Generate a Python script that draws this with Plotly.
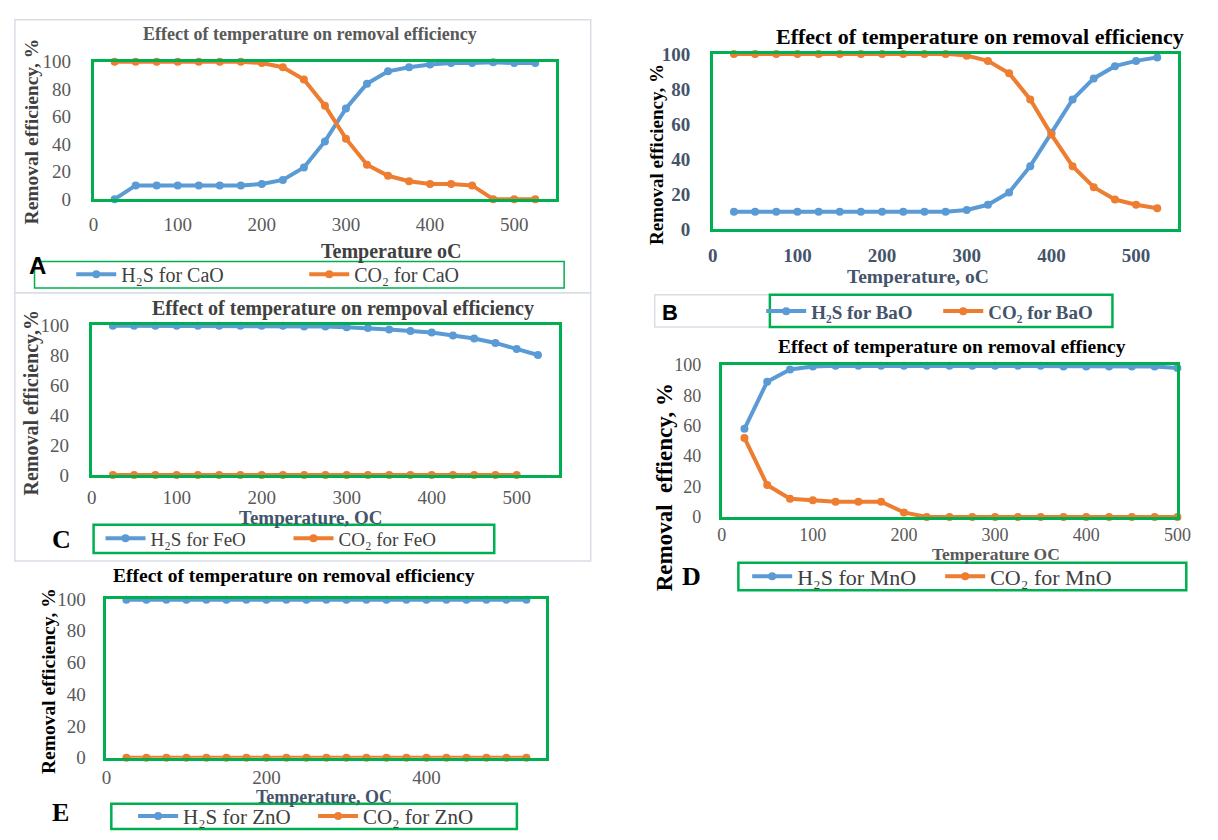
import plotly.graph_objects as go

W, H = 1218, 840
temps = [25, 50, 75, 100, 125, 150, 175, 200, 225, 250, 275, 300, 325, 350, 375, 400, 425, 450, 475, 500, 525]

h2s_cao = [0, 10, 10, 10, 10, 10, 10, 11, 14, 23, 42, 66, 84, 93, 96, 98, 99, 99, 99.5, 99, 99]
co2_cao = [100, 100, 100, 100, 100, 100, 100, 99, 96, 87, 68, 44, 25, 17, 13, 11, 11, 10, 0, 0, 0]

h2s_bao = [10, 10, 10, 10, 10, 10, 10, 10, 10, 10, 10, 11, 14, 21, 36, 55, 74, 86, 93, 96, 98]
co2_bao = [100, 100, 100, 100, 100, 100, 100, 100, 100, 100, 100, 99, 96, 89, 74, 54, 36, 24, 17, 14, 12]

h2s_feo = [99.5, 99.5, 99.5, 99.5, 99.5, 99.5, 99.5, 99.5, 99.5, 99, 99, 98.5, 98, 97, 96, 95, 93, 91, 88, 84, 80]
temps_feo_co2 = temps[:20]
co2_feo = [0] * 20

temps_mno = temps[:20]
h2s_mno = [58, 89, 97, 99, 99.5, 99.5, 99.5, 99.5, 99.5, 99.5, 99.5, 99.5, 99.5, 99.5, 99, 99, 99, 99, 99, 98]
co2_mno = [52, 21, 12, 11, 10, 10, 10, 3, 0, 0, 0, 0, 0, 0, 0, 0, 0, 0, 0, 0]

h2s_zno = [99.5] * 21
co2_zno = [0] * 21

BLUE = "#5B9BD5"
ORANGE = "#ED7D31"
GREEN = "#00B050"
GRAY = "#595959"
SERIF = "Liberation Serif"

def px(x):
    return x / W

def py(y):
    return 1 - y / H

fig = go.Figure()

# panel: (suffix, x0, x1, ytop, ybottom, xmax, dtick, tickcolor, bold, ystandoff, xstandoff, ticksize)
panels = [
    ("", 90, 560, 53, 194, 550, 100, GRAY, False, 16, 6, 19),
    ("2", 719, 1192, 45, 225, 550, 100, "#44546A", True, 16, 7, 19),
    ("3", 88, 563, 323, 477, 550, 100, GRAY, False, 16, 3, 19),
    ("4", 728, 1191, 364, 520, 500, 100, GRAY, False, 14, 0, 18),
    ("5", 103, 550, 604, 767, 550, 200, GRAY, False, 14, 1, 19),
]

series = [
    (temps, h2s_cao, "H₂S for CaO", temps, co2_cao, "CO₂ for CaO"),
    (temps, h2s_bao, "H₂S for BaO", temps, co2_bao, "CO₂ for BaO"),
    (temps, h2s_feo, "H₂S for FeO", temps_feo_co2, co2_feo, "CO₂ for FeO"),
    (temps_mno, h2s_mno, "H₂S for MnO", temps_mno, co2_mno, "CO₂ for MnO"),
    (temps, h2s_zno, "H₂S for ZnO", temps, co2_zno, "CO₂ for ZnO"),
]

for (suf, x0, x1, yt, yb, xmax, dt, tc, tb, ys, xs, ts), (xa, ya, na, xb, yb_, nb) in zip(panels, series):
    xref = "x" + suf
    yref = "y" + suf
    leg = "legend" + suf
    tfont = dict(family=SERIF, size=ts, color=tc, weight="bold" if tb else "normal")
    fig.update_layout(**{
        "xaxis" + suf: dict(domain=[px(x0), px(x1)], range=[0, xmax], dtick=dt, anchor=yref,
                            showgrid=False, zeroline=False, showline=True, mirror=True,
                            linecolor=GREEN, linewidth=2.5, ticks="", tickfont=tfont, ticklabelstandoff=xs),
        "yaxis" + suf: dict(domain=[py(yb), py(yt)], range=[0, 100], dtick=20, anchor=xref,
                            showgrid=False, zeroline=False, showline=True, mirror=True,
                            linecolor=GREEN, linewidth=2.5, ticks="", tickfont=tfont, ticklabelstandoff=ys),
    })
    fig.add_trace(go.Scatter(x=xa, y=ya, name=na, mode="lines+markers", xaxis=xref, yaxis=yref,
                             line=dict(color=BLUE, width=4), marker=dict(color=BLUE, size=8),
                             cliponaxis=False, legend=leg))
    fig.add_trace(go.Scatter(x=xb, y=yb_, name=nb, mode="lines+markers", xaxis=xref, yaxis=yref,
                             line=dict(color=ORANGE, width=4), marker=dict(color=ORANGE, size=8),
                             cliponaxis=False, legend=leg))

# legends: (key, center x, center y, entrywidth, font size, bold, box)
legends = [
    ("legend", 304, 271, 178, 20, False, (30, 258, 568, 285)),
    ("legend2", 948, 309, 122, 19, True, (777, 292, 1125, 325)),
    ("legend3", 288, 542, 133, 19, False, (90, 528, 497, 557)),
    ("legend4", 950, 581, 138, 22, False, (745, 567, 1200, 595)),
    ("legend5", 313, 827, 125, 21, False, (108, 814, 520, 840)),
]
shapes = []
for key, cx, cy, ew, fs, bold, box in legends:
    fig.update_layout(**{key: dict(x=px(cx), y=py(cy), xanchor="center", yanchor="middle",
                                   orientation="h", bgcolor="rgba(0,0,0,0)", borderwidth=0,
                                   entrywidth=ew, entrywidthmode="pixels", itemwidth=40,
                                   font=dict(family=SERIF, size=fs, color="#44546A" if bold else "#404040",
                                             weight="bold" if bold else "normal"))})
    bx0, by0, bx1, by1 = box
    shapes.append(dict(type="rect", xref="paper", yref="paper", x0=px(bx0), x1=px(bx1), y0=py(by1), y1=py(by0),
                       line=dict(color=GREEN, width=1.5 if key == "legend" else 2.5)))

# light gray panel frames
for bx0, by0, bx1, by1 in [(10, 10, 595, 290), (10, 290, 595, 565), (660, 292, 777, 325)]:
    shapes.append(dict(type="rect", xref="paper", yref="paper", x0=px(bx0), x1=px(bx1), y0=py(by1), y1=py(by0),
                       line=dict(color="#D9DEE6", width=1.5), layer="below"))
fig.update_layout(shapes=shapes)

ann = []
def text(x, y, s, size, color="#000000", bold=True, family=SERIF, angle=0, xanchor="center"):
    ann.append(dict(x=px(x), y=py(y), xref="paper", yref="paper", text=s, showarrow=False,
                    xanchor=xanchor, yanchor="middle", textangle=angle,
                    font=dict(family=family, size=size, color=color, weight="bold" if bold else "normal")))

# titles
text(310, 25, "Effect of temperature on removal efficiency", 18, "#595959")
text(990, 27, "Effect of temperature on removal efficiency", 22, "#000000")
text(343, 306, "Effect of temperature on rempoval efficiency", 20, "#404040")
text(962, 345, "Effect of temperature on removal effiency", 19.5, "#000000")
text(294, 580, "Effect of temperature on removal efficiency", 19.5, "#000000")

# y titles
text(27, 125, "Removal efficiency, %", 19.5, "#404040", angle=-90)
text(662, 148, "Removal efficiency, %", 19, "#000000", angle=-90)
text(27, 403, "Removal efficiency,%", 20, "#404040", angle=-90)
text(670, 490, "Removal  effiency, %", 23, "#000000", angle=-90)
text(45, 688, "Removal efficiency, %", 19.5, "#000000", angle=-90)

# x titles
text(393, 248, "Temperature oC", 20, "#404040")
text(927, 273, "Temperature, oC", 19.5, "#44546A")
text(311, 521, "Temperature, OC", 19, "#44546A")
text(1007, 558, "Temperature OC", 17.5, "#595959")
text(324, 807, "Temperature, OC", 18, "#44546A")

# panel letters
text(22, 262, "A", 24, "#000000", family="Liberation Sans", xanchor="left")
text(665, 310, "B", 22, "#000000", family="Liberation Sans", xanchor="left")
text(46, 543, "C", 26, "#000000", xanchor="left")
text(686, 581, "D", 26, "#000000", xanchor="left")
text(46, 823, "E", 26, "#000000", xanchor="left")

fig.update_layout(annotations=ann, width=W, height=H, margin=dict(l=0, r=0, t=0, b=0),
                  paper_bgcolor="white", plot_bgcolor="white")

fig.write_html("out.html", config={"displayModeBar": False},
               post_script="document.body.style.margin='0';")
